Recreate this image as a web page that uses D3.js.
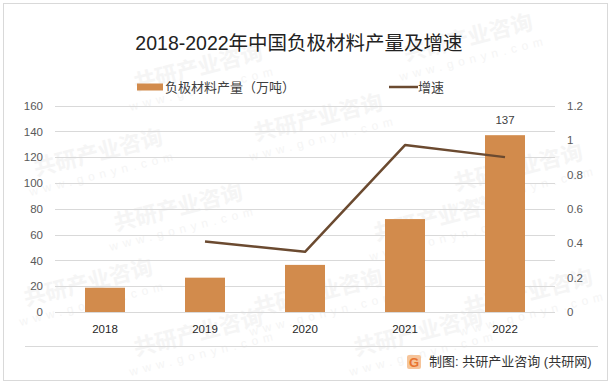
<!DOCTYPE html>
<html>
<head>
<meta charset="utf-8">
<script src="https://cdn.jsdelivr.net/npm/d3@7"></script>
<style>
  body { margin: 0; background: #fff; }
  text { font-family: "Liberation Sans", "Noto Sans CJK SC", sans-serif; }
</style>
</head>
<body>
<div id="chart"></div>
<script>
// data
var years = ["2018", "2019", "2020", "2021", "2022"];
var output = [18.8, 26.6, 36.5, 72, 137];
var growthYears = ["2019", "2020", "2021", "2022"];
var growth = [0.41, 0.35, 0.97, 0.90];
var leftTicks = [0, 20, 40, 60, 80, 100, 120, 140, 160];
var rightTicks = [0, 0.2, 0.4, 0.6, 0.8, 1, 1.2];
var seriesNames = ["负极材料产量（万吨）", "增速"];

var fullWidth = 613, fullHeight = 385;
var barColor = "#D28B4C", lineColor = "#6B4A30";

var svg = d3.select("#chart").append("svg")
  .attr("width", fullWidth)
  .attr("height", fullHeight);

// outer frame
svg.append("rect")
  .attr("x", 3.5).attr("y", 3.5)
  .attr("width", 604).attr("height", 377)
  .attr("fill", "#fff")
  .attr("stroke", "#d9d9d9");

// faint watermarks, kept inside the frame
var marks = [[200, 75], [470, 45], [320, 125], [100, 160], [520, 175],
             [180, 215], [440, 225], [90, 290], [320, 300], [530, 300], [200, 340], [420, 340]];
marks.forEach(function(m) {
  var w = svg.append("g")
    .attr("transform", "translate(" + m[0] + "," + m[1] + ") rotate(-14)")
    .attr("fill", "#f5f5f5");
  w.append("text").attr("text-anchor", "middle")
    .style("font-size", "22px").style("font-weight", "bold")
    .text("共研产业咨询");
  w.append("text").attr("text-anchor", "middle").attr("y", 18)
    .style("font-size", "12px").style("letter-spacing", "5px")
    .text("www.gonyn.com");
});

// scales
var x = d3.scaleBand().domain(years).range([55, 555]);
var y = d3.scaleLinear().domain([0, 160]).range([312, 105.5]);
var yR = d3.scaleLinear().domain([0, 1.2]).range([312, 105.5]);

// gridlines
svg.append("g").selectAll("line")
  .data(leftTicks)
  .enter().append("line")
  .attr("x1", 55).attr("x2", 555)
  .attr("y1", function(d) { return Math.round(y(d)) + 0.5; })
  .attr("y2", function(d) { return Math.round(y(d)) + 0.5; })
  .attr("stroke", "#d9d9d9");

// left axis
var yAxis = svg.append("g")
  .attr("transform", "translate(55,0)")
  .call(d3.axisLeft(y).tickValues(leftTicks).tickSize(0).tickPadding(12));
// right axis
var yAxisR = svg.append("g")
  .attr("transform", "translate(555,0)")
  .call(d3.axisRight(yR).tickValues(rightTicks).tickSize(0).tickPadding(12)
    .tickFormat(function(d) { return String(+d.toFixed(1)); }));
// x axis
var xAxis = svg.append("g")
  .attr("transform", "translate(0,312)")
  .call(d3.axisBottom(x).tickSize(0).tickPadding(13));

[yAxis, yAxisR, xAxis].forEach(function(a) {
  a.select(".domain").remove();
  a.selectAll("text").style("font-size", "11.5px").attr("fill", "#595959")
    .style("font-family", "\"Liberation Sans\", sans-serif");
});
xAxis.selectAll("text").attr("fill", "#262626");

// bars
var barW = 40;
svg.append("g").selectAll("rect")
  .data(output)
  .enter().append("rect")
  .attr("x", function(d, i) { return x(years[i]) + x.bandwidth() / 2 - barW / 2; })
  .attr("y", function(d) { return y(d); })
  .attr("width", barW)
  .attr("height", function(d) { return y(0) - y(d); })
  .attr("fill", barColor);

// label on the last bar
svg.append("text")
  .attr("x", x(years[4]) + x.bandwidth() / 2)
  .attr("y", y(output[4]) - 11)
  .attr("text-anchor", "middle")
  .attr("fill", "#404040")
  .style("font-size", "11.5px")
  .text(output[4]);

// growth line
var line = d3.line()
  .x(function(d, i) { return x(growthYears[i]) + x.bandwidth() / 2; })
  .y(function(d) { return yR(d); });
svg.append("path")
  .datum(growth)
  .attr("d", line)
  .attr("fill", "none")
  .attr("stroke", lineColor)
  .attr("stroke-width", 2.5)
  .attr("stroke-linejoin", "round");

// title
svg.append("text")
  .attr("x", 299).attr("y", 50)
  .attr("text-anchor", "middle")
  .attr("fill", "#222")
  .style("font-size", "19.5px")
  .text("2018-2022年中国负极材料产量及增速");

// legend
svg.append("rect")
  .attr("x", 137).attr("y", 83.5)
  .attr("width", 26).attr("height", 7)
  .attr("fill", barColor);
svg.append("text")
  .attr("x", 165).attr("y", 92)
  .attr("fill", "#404040")
  .style("font-size", "13px")
  .text(seriesNames[0]);
svg.append("line")
  .attr("x1", 389).attr("x2", 418)
  .attr("y1", 87).attr("y2", 87)
  .attr("stroke", lineColor).attr("stroke-width", 2.5);
svg.append("text")
  .attr("x", 418).attr("y", 92)
  .attr("fill", "#404040")
  .style("font-size", "13px")
  .text(seriesNames[1]);

// footer
svg.append("line")
  .attr("x1", 25).attr("x2", 598)
  .attr("y1", 346.5).attr("y2", 346.5)
  .attr("stroke", "#d9d9d9");
var logo = svg.append("g").attr("transform", "translate(407,355)");
logo.append("rect").attr("width", 14).attr("height", 14).attr("rx", 2).attr("fill", "#F6C49A");
logo.append("text").attr("x", 7).attr("y", 11.5).attr("text-anchor", "middle")
  .attr("fill", "#E8732E").style("font-size", "13px").style("font-weight", "bold").text("G");
svg.append("text")
  .attr("x", 429).attr("y", 365.5)
  .attr("fill", "#333")
  .style("font-size", "13px")
  .text("制图: 共研产业咨询 (共研网)");
</script>
</body>
</html>
